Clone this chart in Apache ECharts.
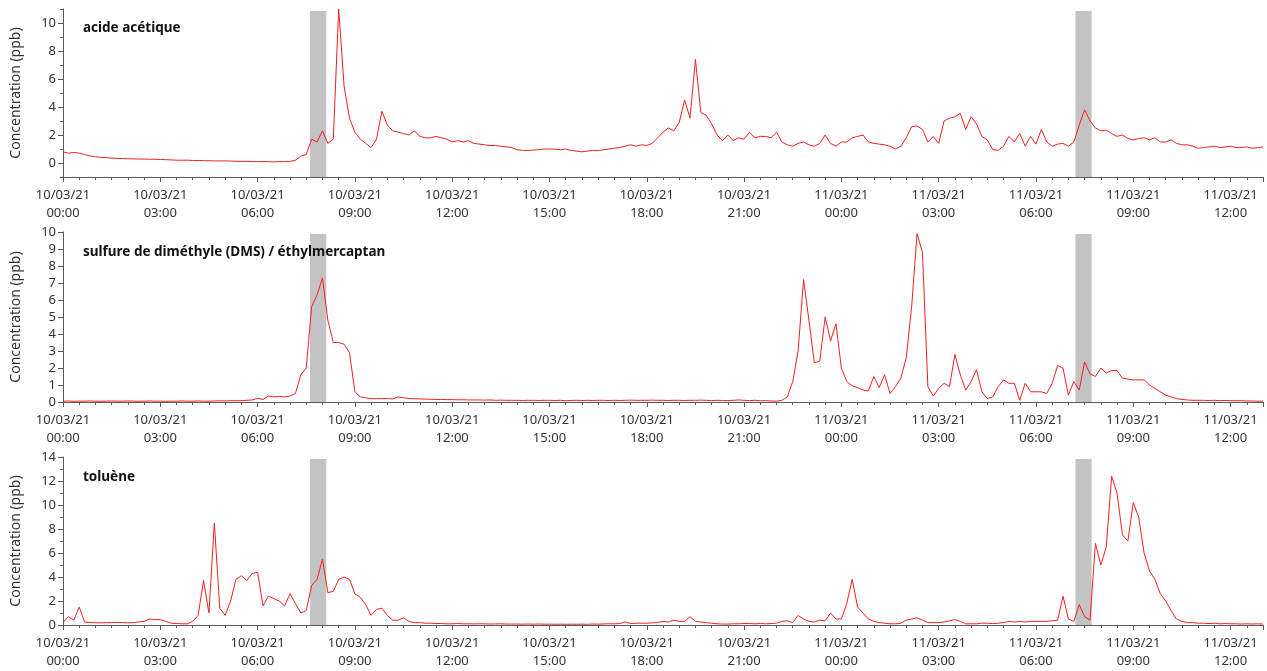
<!DOCTYPE html>
<html>
<head>
<meta charset="utf-8">
<script src="https://cdn.jsdelivr.net/npm/echarts@6/dist/echarts.min.js"></script>
<style>
  html, body { margin: 0; padding: 0; background: #fff; }
  #chart { width: 1267px; height: 671px; }
</style>
</head>
<body>
<div id="chart"></div>
<script>
// Sampling: one value every 10 minutes, starting 10/03/21 00:00 (hours since start on the x axis)
const SAMPLES_PER_HOUR = 6;
const FIRST_DAY = 10;

// Acetic acid (ppb)
const aceticAcid = [
  0.8, 0.7, 0.75, 0.7, 0.6, 0.5,
  0.45, 0.4, 0.38, 0.35, 0.33, 0.32,
  0.3, 0.3, 0.28, 0.28, 0.27, 0.27,
  0.25, 0.24, 0.22, 0.2, 0.2, 0.2,
  0.18, 0.18, 0.17, 0.16, 0.15, 0.15,
  0.15, 0.14, 0.12, 0.12, 0.12, 0.1,
  0.1, 0.1, 0.1, 0.08, 0.1, 0.1,
  0.12, 0.2, 0.5, 0.6, 1.7, 1.5,
  2.3, 1.4, 1.7, 11, 5.5, 3.2,
  2.2, 1.7, 1.4, 1.1, 1.7, 3.7,
  2.7, 2.3, 2.2, 2.1, 2.0, 2.3,
  1.9, 1.8, 1.8, 1.9, 1.8, 1.7,
  1.5, 1.6, 1.5, 1.6, 1.4, 1.35,
  1.3, 1.25, 1.25, 1.2, 1.15, 1.1,
  0.95, 0.9, 0.9, 0.92, 0.95, 1.0,
  1.0, 0.98, 0.95, 1.0, 0.9, 0.85,
  0.8, 0.85, 0.9, 0.88, 0.95, 1.0,
  1.05, 1.1, 1.2, 1.3, 1.2, 1.3,
  1.25, 1.4, 1.8, 2.2, 2.5, 2.3,
  2.9, 4.5, 3.2, 7.4, 3.6, 3.4,
  2.8, 2.0, 1.6, 2.0, 1.6, 1.8,
  1.7, 2.2, 1.8, 1.9, 1.9, 1.8,
  2.2, 1.5, 1.3, 1.2, 1.4, 1.5,
  1.3, 1.2, 1.4, 2.0, 1.4, 1.2,
  1.5, 1.5, 1.8, 1.9, 2.0, 1.5,
  1.4, 1.35, 1.3, 1.2, 1.0, 1.2,
  1.8, 2.6, 2.65, 2.4, 1.5, 1.9,
  1.4, 3.0, 3.2, 3.3, 3.55, 2.4,
  3.3, 2.8, 1.9, 1.65, 0.95, 0.9,
  1.2, 1.9, 1.5, 2.1, 1.2, 1.9,
  1.35, 2.4, 1.5, 1.2, 1.35, 1.4,
  1.2, 1.5, 2.7, 3.8, 3.0, 2.5,
  2.3, 2.35, 2.1, 1.9, 2.0, 1.75,
  1.65, 1.75, 1.8, 1.65, 1.8, 1.5,
  1.5, 1.65, 1.4, 1.3, 1.3, 1.2,
  1.05, 1.1, 1.15, 1.2, 1.1, 1.15,
  1.2, 1.1, 1.1, 1.15, 1.05, 1.1,
  1.15
];

// Dimethyl sulfide / ethyl mercaptan (ppb)
const dms = [
  0.05, 0.06, 0.04, 0.05, 0.05, 0.06,
  0.05, 0.04, 0.05, 0.06, 0.05, 0.05,
  0.06, 0.05, 0.04, 0.05, 0.06, 0.05,
  0.05, 0.04, 0.05, 0.05, 0.06, 0.05,
  0.05, 0.06, 0.05, 0.05, 0.06, 0.07,
  0.06, 0.08, 0.07, 0.08, 0.1, 0.12,
  0.22, 0.15, 0.35, 0.3, 0.32, 0.3,
  0.35, 0.5, 1.6, 2.0, 5.6, 6.3,
  7.3, 4.8, 3.5, 3.5, 3.4, 2.9,
  0.6, 0.3, 0.25, 0.2, 0.2, 0.2,
  0.2, 0.18, 0.3, 0.25, 0.2, 0.2,
  0.18, 0.17, 0.16, 0.15, 0.15, 0.14,
  0.14, 0.13, 0.13, 0.12, 0.12, 0.12,
  0.11, 0.12, 0.1, 0.11, 0.1, 0.1,
  0.1, 0.09, 0.1, 0.1, 0.09, 0.1,
  0.1, 0.09, 0.1, 0.08, 0.09, 0.1,
  0.09, 0.1, 0.09, 0.1, 0.1, 0.09,
  0.1, 0.09, 0.1, 0.11, 0.1, 0.1,
  0.1, 0.11, 0.1, 0.1, 0.09, 0.1,
  0.1, 0.09, 0.1, 0.1, 0.11, 0.1,
  0.08, 0.1, 0.09, 0.08, 0.1, 0.12,
  0.1, 0.08, 0.1, 0.07, 0.08, 0.06,
  0.05, 0.1, 0.3, 1.2, 3.0, 7.2,
  4.8, 2.3, 2.4, 5.0, 3.6, 4.6,
  2.0, 1.2, 0.95, 0.85, 0.7, 0.65,
  1.5, 0.85, 1.6, 0.5, 0.9, 1.4,
  2.6, 5.6, 9.9, 8.8, 0.9, 0.35,
  0.8, 1.1, 0.9, 2.8, 1.6, 0.7,
  1.2, 1.9, 0.6, 0.2, 0.3, 0.9,
  1.3, 1.1, 1.1, 0.1, 1.1, 0.6,
  0.6, 0.6, 0.5, 1.1, 2.15, 2.0,
  0.4, 1.2, 0.7, 2.35, 1.65, 1.5,
  2.0, 1.7, 1.85, 1.85, 1.4, 1.35,
  1.3, 1.3, 1.3, 1.0, 0.8, 0.6,
  0.4, 0.3, 0.2, 0.15, 0.12, 0.1,
  0.1, 0.1, 0.09, 0.1, 0.08, 0.09,
  0.08, 0.07, 0.08, 0.06, 0.06, 0.05,
  0.05
];

// Toluene (ppb)
const toluene = [
  0.2, 0.7, 0.4, 1.5, 0.25, 0.2,
  0.2, 0.18, 0.2, 0.2, 0.22, 0.2,
  0.18, 0.2, 0.25, 0.3, 0.5, 0.45,
  0.45, 0.3, 0.15, 0.12, 0.1, 0.1,
  0.3, 0.8, 3.7, 1.0, 8.5, 1.4,
  0.8, 2.0, 3.8, 4.1, 3.7, 4.3,
  4.4, 1.6, 2.4, 2.2, 2.0, 1.6,
  2.6, 1.8, 1.0, 1.2, 3.3, 3.8,
  5.5, 2.7, 2.8, 3.8, 4.0, 3.8,
  2.6, 2.3, 1.7, 0.8, 1.3, 1.4,
  0.8, 0.4, 0.4, 0.6, 0.3, 0.2,
  0.2, 0.15, 0.15, 0.12, 0.12, 0.1,
  0.1, 0.12, 0.1, 0.1, 0.09, 0.1,
  0.1, 0.08, 0.09, 0.1, 0.08, 0.08,
  0.08, 0.07, 0.08, 0.07, 0.08, 0.07,
  0.07, 0.06, 0.07, 0.06, 0.07, 0.06,
  0.07, 0.06, 0.08, 0.07, 0.09, 0.1,
  0.1, 0.12, 0.25, 0.12, 0.15, 0.15,
  0.15, 0.18, 0.2, 0.3, 0.25, 0.4,
  0.3, 0.3, 0.7, 0.3, 0.25, 0.2,
  0.15, 0.1, 0.08, 0.08, 0.1, 0.1,
  0.12, 0.12, 0.1, 0.12, 0.1, 0.12,
  0.15, 0.3, 0.35, 0.2, 0.8, 0.5,
  0.3, 0.25, 0.4, 0.35, 1.0, 0.5,
  0.5, 1.8, 3.8, 1.5, 1.0, 0.5,
  0.3, 0.2, 0.15, 0.1, 0.1, 0.15,
  0.4, 0.5, 0.6, 0.4, 0.2, 0.2,
  0.2, 0.25, 0.35, 0.45, 0.3, 0.1,
  0.1, 0.1, 0.15, 0.15, 0.12, 0.15,
  0.2, 0.3, 0.25, 0.3, 0.25, 0.3,
  0.3, 0.3, 0.3, 0.35, 0.4, 2.4,
  0.5, 0.3, 1.7, 0.7, 0.4, 6.8,
  5.0, 6.5, 12.4, 11.0, 7.5, 7.0,
  10.2, 9.0, 6.0, 4.5, 3.8, 2.6,
  2.0, 1.2, 0.5, 0.3, 0.2, 0.2,
  0.15, 0.15, 0.12, 0.15, 0.1, 0.12,
  0.1, 0.1, 0.08, 0.1, 0.08, 0.1,
  0.08
];

const panelTitles = ['acide acétique', 'sulfure de diméthyle (DMS) / éthylmercaptan', 'toluène'];
const panelSeries = [aceticAcid, dms, toluene];

// Sampling periods (hours since 10/03/21 00:00), shaded in grey
const samplingPeriods = [[7 + 37 / 60, 8 + 7 / 60], [31 + 13 / 60, 31 + 43 / 60]];

// Axis extents and labelled values for each panel
const yRanges = [[-1, 11], [0, 10], [0, 14]];
const yLabelValues = [[0, 2, 4, 6, 8, 10], [0, 1, 2, 3, 4, 5, 6, 7, 8, 9, 10], [0, 2, 4, 6, 8, 10, 12, 14]];
const xRange = [0, 37];
const xLabelHours = [0, 3, 6, 9, 12, 15, 18, 21, 24, 27, 30, 33, 36];

const FONT = 'Noto Sans';
const LINE_RED = '#f02020';
const AXIS_GREY = '#5a5a5a';
const TEXT_GREY = '#333';

const grids = [
  { left: 63, right: 4, top: 9, height: 168 },
  { left: 63, right: 4, top: 232, height: 170 },
  { left: 63, right: 4, top: 457, height: 168 }
];

function pad2(n) { return (n < 10 ? '0' : '') + n; }
function hourLabel(h) {
  const day = FIRST_DAY + Math.floor(h / 24);
  const hh = Math.round(h % 24);
  return pad2(day) + '/03/21\n' + pad2(hh) + ':00';
}
function range(a, b, step) {
  const out = [];
  for (let v = a; v <= b + 1e-9; v += step) out.push(+v.toFixed(4));
  return out;
}
const halfHourTicks = range(xRange[0], xRange[1], 0.5);

const xAxis = [], yAxis = [], series = [], title = [];

grids.forEach((g, i) => {
  const [yMin, yMax] = yRanges[i];
  // main x axis: labels and 3-hour ticks
  xAxis.push({
    type: 'value', gridIndex: i, min: xRange[0], max: xRange[1],
    axisLine: { show: true, onZero: false, lineStyle: { color: AXIS_GREY, width: 1 } },
    axisTick: { show: true, length: 5, customValues: xLabelHours.concat([xRange[1]]), lineStyle: { color: AXIS_GREY } },
    axisLabel: {
      customValues: xLabelHours, formatter: hourLabel, color: TEXT_GREY,
      fontFamily: FONT, fontSize: 13, lineHeight: 18, margin: 9
    },
    splitLine: { show: false }
  });
  // secondary x axis: half-hour minor ticks
  xAxis.push({
    type: 'value', gridIndex: i, min: xRange[0], max: xRange[1], position: 'bottom',
    axisLine: { show: false, onZero: false },
    axisTick: { show: true, length: 3, customValues: halfHourTicks, lineStyle: { color: AXIS_GREY } },
    axisLabel: { show: false },
    splitLine: { show: false }
  });
  // main y axis
  yAxis.push({
    type: 'value', gridIndex: i, min: yMin, max: yMax,
    name: 'Concentration (ppb)', nameLocation: 'middle', nameGap: 40,
    nameTextStyle: { color: TEXT_GREY, fontFamily: FONT, fontSize: 14 },
    axisLine: { show: true, lineStyle: { color: AXIS_GREY, width: 1 } },
    axisTick: { show: true, length: 5, customValues: yLabelValues[i], lineStyle: { color: AXIS_GREY } },
    axisLabel: { customValues: yLabelValues[i], color: TEXT_GREY, fontFamily: FONT, fontSize: 13, margin: 7 },
    splitLine: { show: false }
  });
  // secondary y axis: unit ticks between labels
  yAxis.push({
    type: 'value', gridIndex: i, min: yMin, max: yMax, position: 'left',
    axisLine: { show: false },
    axisTick: { show: true, length: 3, customValues: range(yMin, yMax, 1), lineStyle: { color: AXIS_GREY } },
    axisLabel: { show: false },
    splitLine: { show: false }
  });

  // grey sampling periods, drawn under the data line
  series.push({
    type: 'line', xAxisIndex: 2 * i, yAxisIndex: 2 * i, data: [], silent: true, z: 1,
    markArea: {
      silent: true,
      itemStyle: { color: '#c3c3c3', opacity: 1 },
      data: samplingPeriods.map(p => [
        { xAxis: p[0], yAxis: yMin },
        { xAxis: p[1], yAxis: yMax - (yMax - yMin) * 0.012 }
      ])
    }
  });
  // concentration line
  series.push({
    type: 'line', xAxisIndex: 2 * i, yAxisIndex: 2 * i, z: 3,
    data: panelSeries[i].map((v, k) => [k / SAMPLES_PER_HOUR, v]),
    showSymbol: false, symbol: 'none', clip: true,
    lineStyle: { color: LINE_RED, width: 1 },
    animation: false
  });

  title.push({
    text: panelTitles[i], left: 83, top: g.top + (i === 0 ? 8 : 9), padding: 0,
    textStyle: { fontFamily: FONT, fontSize: 13.5, fontWeight: 'bold', color: '#111', lineHeight: 22 }
  });
});

const chart = echarts.init(document.getElementById('chart'), null, { renderer: 'canvas' });
chart.setOption({
  animation: false,
  backgroundColor: '#fff',
  title, grid: grids, xAxis, yAxis, series
});
</script>
</body>
</html>
